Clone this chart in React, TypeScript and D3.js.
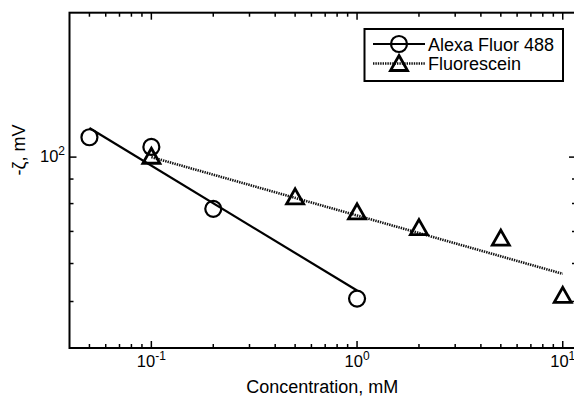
import React from 'react';
import * as d3 from 'd3';

// measured zeta potential vs concentration
const alexaConc = [0.05, 0.1, 0.2, 1];
const alexaZeta = [110, 105, 78, 50.7];
const fluorConc = [0.1, 0.5, 1, 2, 5, 10];
const fluorZeta = [100.4, 82.6, 76.9, 71.3, 67.8, 51.5];

// power-law fit lines (end points)
const alexaFitConc = [0.05, 1];
const alexaFitZeta = [115, 52.7];
const fluorFitConc = [0.1, 10];
const fluorFitZeta = [100, 57.1];

const xMajor = [0.1, 1, 10];
const xMajorExp = ['-1', '0', '1'];
const xMinor = [0.05, 0.06, 0.07, 0.08, 0.09, 0.2, 0.3, 0.4, 0.5, 0.6, 0.7, 0.8, 0.9, 2, 3, 4, 5, 6, 7, 8, 9];
const yMajor = [100];
const yMajorExp = ['2'];
const yMinor = [50, 60, 70, 80, 90];

const seriesNames = ['Alexa Fluor 488', 'Fluorescein'];

const W = 574;
const H = 402;
const FONT = '"Liberation Sans", Arial, Helvetica, sans-serif';

const App = () => {
  const left = 69.5, right = 576, top = 12.7, bottom = 348;
  const x = d3.scaleLog().domain([0.04, 11.6]).range([left, right]);
  const y = d3.scaleLog().domain([40, 200]).range([bottom, top]);

  const line = d3.line<[number, number]>().x(d => x(d[0])).y(d => y(d[1]));
  const alexaFit = line(alexaFitConc.map((c, i) => [c, alexaFitZeta[i]]));
  const fluorFit = line(fluorFitConc.map((c, i) => [c, fluorFitZeta[i]]));

  const tri = (cx: number, cy: number) =>
    `M${cx},${cy - 8}L${cx + 8.5},${cy + 7}L${cx - 8.5},${cy + 7}Z`;

  const majorLen = 7, minorLen = 4;

  return (
    <div style={{ position: 'absolute', left: 0, top: 0 }}>
      <svg width={W} height={H} style={{ display: 'block', background: '#fff' }} fontFamily={FONT}>
        {/* fits */}
        <path d={alexaFit || ''} fill="none" stroke="#000" strokeWidth={2.2} />
        <path d={fluorFit || ''} fill="none" stroke="#111" strokeWidth={2.6} strokeDasharray="1.4 1" />

        {/* markers */}
        {fluorConc.map((c, i) => (
          <path key={'t' + i} d={tri(x(c), y(fluorZeta[i]))} fill="none" stroke="#000" strokeWidth={2.8} strokeLinejoin="miter" />
        ))}
        {alexaConc.map((c, i) => (
          <circle key={'c' + i} cx={x(c)} cy={y(alexaZeta[i])} r={8} fill="none" stroke="#000" strokeWidth={2.2} />
        ))}

        {/* frame */}
        <rect x={left} y={top} width={right - left} height={bottom - top} fill="none" stroke="#000" strokeWidth={2} />

        {/* x ticks */}
        {xMinor.map(v => (
          <g key={'xm' + v}>
            <line x1={x(v)} x2={x(v)} y1={bottom} y2={bottom - minorLen} stroke="#000" strokeWidth={1.5} />
            <line x1={x(v)} x2={x(v)} y1={top} y2={top + minorLen} stroke="#000" strokeWidth={1.5} />
          </g>
        ))}
        {xMajor.map((v, i) => (
          <g key={'xM' + v}>
            <line x1={x(v)} x2={x(v)} y1={bottom} y2={bottom - majorLen} stroke="#000" strokeWidth={1.5} />
            <line x1={x(v)} x2={x(v)} y1={top} y2={top + majorLen} stroke="#000" strokeWidth={1.5} />
            <text x={x(v)} y={367} textAnchor="middle" fontSize={16.5}>
              10<tspan fontSize={12} dy={-7.5}>{xMajorExp[i]}</tspan>
            </text>
          </g>
        ))}

        {/* y ticks */}
        {yMinor.map(v => (
          <g key={'ym' + v}>
            <line x1={left} x2={left + minorLen} y1={y(v)} y2={y(v)} stroke="#000" strokeWidth={1.5} />
            <line x1={right} x2={right - minorLen} y1={y(v)} y2={y(v)} stroke="#000" strokeWidth={1.5} />
          </g>
        ))}
        {yMajor.map((v, i) => (
          <g key={'yM' + v}>
            <line x1={left} x2={left + majorLen} y1={y(v)} y2={y(v)} stroke="#000" strokeWidth={1.5} />
            <line x1={right} x2={right - majorLen} y1={y(v)} y2={y(v)} stroke="#000" strokeWidth={1.5} />
            <text x={65} y={y(v) + 5} textAnchor="end" fontSize={16.5}>
              10<tspan fontSize={12} dy={-7.5}>{yMajorExp[i]}</tspan>
            </text>
          </g>
        ))}

        {/* axis labels */}
        <text x={(left + 563) / 2 + 6} y={393} textAnchor="middle" fontSize={18}>Concentration, mM</text>
        <text transform="translate(25,150) rotate(-90)" textAnchor="middle" fontSize={18}>-ζ, mV</text>

        {/* legend */}
        <rect x={364.5} y={29} width={198.5} height={52} fill="#fff" stroke="#000" strokeWidth={2} />
        <line x1={373} x2={425} y1={44} y2={44} stroke="#000" strokeWidth={2.2} />
        <circle cx={399} cy={44} r={8} fill="none" stroke="#000" strokeWidth={2.2} />
        <text x={428} y={50.5} fontSize={18}>{seriesNames[0]}</text>
        <line x1={373} x2={425} y1={63.5} y2={63.5} stroke="#111" strokeWidth={2.6} strokeDasharray="1.4 1" />
        <path d={tri(399, 63.5)} fill="none" stroke="#000" strokeWidth={2.8} />
        <text x={428} y={70} fontSize={18}>{seriesNames[1]}</text>
      </svg>
    </div>
  );
};

export default App;
